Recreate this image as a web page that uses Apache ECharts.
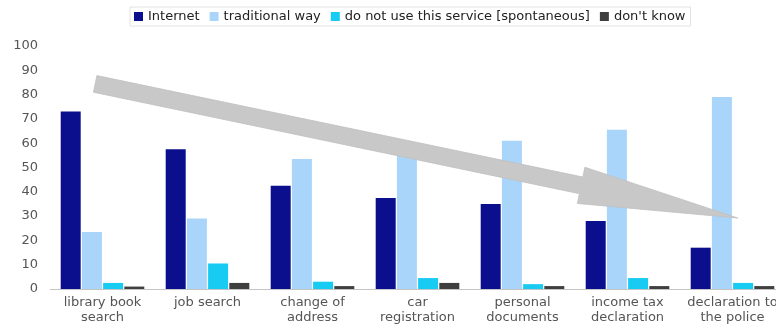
<!DOCTYPE html>
<html>
<head>
<meta charset="utf-8">
<script src="https://cdn.jsdelivr.net/npm/echarts@6/dist/echarts.min.js"></script>
<style>
  html, body { margin: 0; padding: 0; background: #fff; }
  #chart { width: 776px; height: 324px; }
</style>
</head>
<body>
<div id="chart"></div>
<script>
// Services and how people prefer to use them (%)
var categories = [
  'library book\nsearch', 'job search', 'change of\naddress', 'car\nregistration',
  'personal\ndocuments', 'income tax\ndeclaration', 'declaration to\nthe police'
];
var seriesNames = ['Internet', 'traditional way', 'do not use this service [spontaneous]', "don't know"];
var internetValues    = [73, 57.5, 42.5, 37.5, 35, 28, 17];
var traditionalValues = [23.5, 29, 53.5, 56, 61, 65.5, 79];
var notUseValues      = [2.5, 10.5, 3, 4.5, 2, 4.5, 2.5];
var dontKnowValues    = [1, 2.5, 1.2, 2.5, 1.2, 1.2, 1.2];
var yTicks = { min: 0, max: 100, interval: 10 };

// Trend arrow, in axis terms: [category, value] of tail and tip
var trendArrow = [[0, 84.4, 6, 29.2]];
var trendArrowShift = [-0.07, 0.05]; // fraction of a category band

var colors = ['#0b0f8e', '#a9d5fb', '#17cbf3', '#3f3f3f'];
var fontFamily = '"DejaVu Sans", "Liberation Sans", sans-serif';

var chart = echarts.init(document.getElementById('chart'), null, { renderer: 'canvas' });

function renderArrow(params, api) {
  var bw = api.size([1, 0])[0];
  var p0 = api.coord([api.value(0), api.value(1)]);
  var p1 = api.coord([api.value(2), api.value(3)]);
  var x0 = p0[0] + trendArrowShift[0] * bw, y0 = p0[1];
  var x1 = p1[0] + trendArrowShift[1] * bw, y1 = p1[1];
  var dx = x1 - x0, dy = y1 - y0;
  var len = Math.sqrt(dx * dx + dy * dy);
  var ux = dx / len, uy = dy / len;
  var nx = -uy, ny = ux;
  var shaftHalf = 8.5, headHalf = 18.5, headLen = 160;
  var bx = x1 - ux * headLen, by = y1 - uy * headLen;
  var pts = [
    [x0 + nx * shaftHalf, y0 + ny * shaftHalf],
    [x0 - nx * shaftHalf, y0 - ny * shaftHalf],
    [bx - nx * shaftHalf, by - ny * shaftHalf],
    [bx - nx * headHalf, by - ny * headHalf],
    [x1, y1],
    [bx + nx * headHalf, by + ny * headHalf],
    [bx + nx * shaftHalf, by + ny * shaftHalf]
  ];
  return {
    type: 'polygon',
    shape: { points: pts },
    style: { fill: '#c8c8c8', stroke: '#c0c0c0', lineWidth: 0.8 }
  };
}

var valueSets = [internetValues, traditionalValues, notUseValues, dontKnowValues];
var series = valueSets.map(function (vals, i) {
  return {
    name: seriesNames[i],
    type: 'bar',
    data: vals,
    barWidth: 20,
    barGap: '6%',
    itemStyle: { color: colors[i] },
    emphasis: { disabled: true }
  };
});
series.push({
  type: 'custom',
  name: 'trend',
  renderItem: renderArrow,
  data: trendArrow,
  z: 10,
  silent: true,
  clip: false
});

chart.setOption({
  animation: false,
  textStyle: { fontFamily: fontFamily },
  legend: {
    data: seriesNames,
    left: 130,
    top: 7,
    padding: [3, 5, 3, 4],
    itemWidth: 9,
    itemHeight: 9,
    itemGap: 10,
    icon: 'rect',
    borderColor: '#e2e2e2',
    borderWidth: 1,
    textStyle: { fontFamily: fontFamily, fontSize: 13, color: '#222' }
  },
  grid: { left: 50, top: 46, bottom: 35, width: 735, containLabel: false, outerBoundsMode: 'none' },
  xAxis: {
    type: 'category',
    data: categories,
    axisLine: { lineStyle: { color: '#c4c4c4', width: 1 } },
    axisTick: { show: false },
    axisLabel: { fontFamily: fontFamily, color: '#555', fontSize: 13, lineHeight: 15, margin: 6, interval: 0 }
  },
  yAxis: {
    type: 'value',
    min: yTicks.min,
    max: yTicks.max,
    interval: yTicks.interval,
    axisLine: { show: false },
    axisTick: { show: false },
    splitLine: { show: false },
    axisLabel: { fontFamily: fontFamily, color: '#555', fontSize: 13, margin: 12 }
  },
  series: series
});
</script>
</body>
</html>
